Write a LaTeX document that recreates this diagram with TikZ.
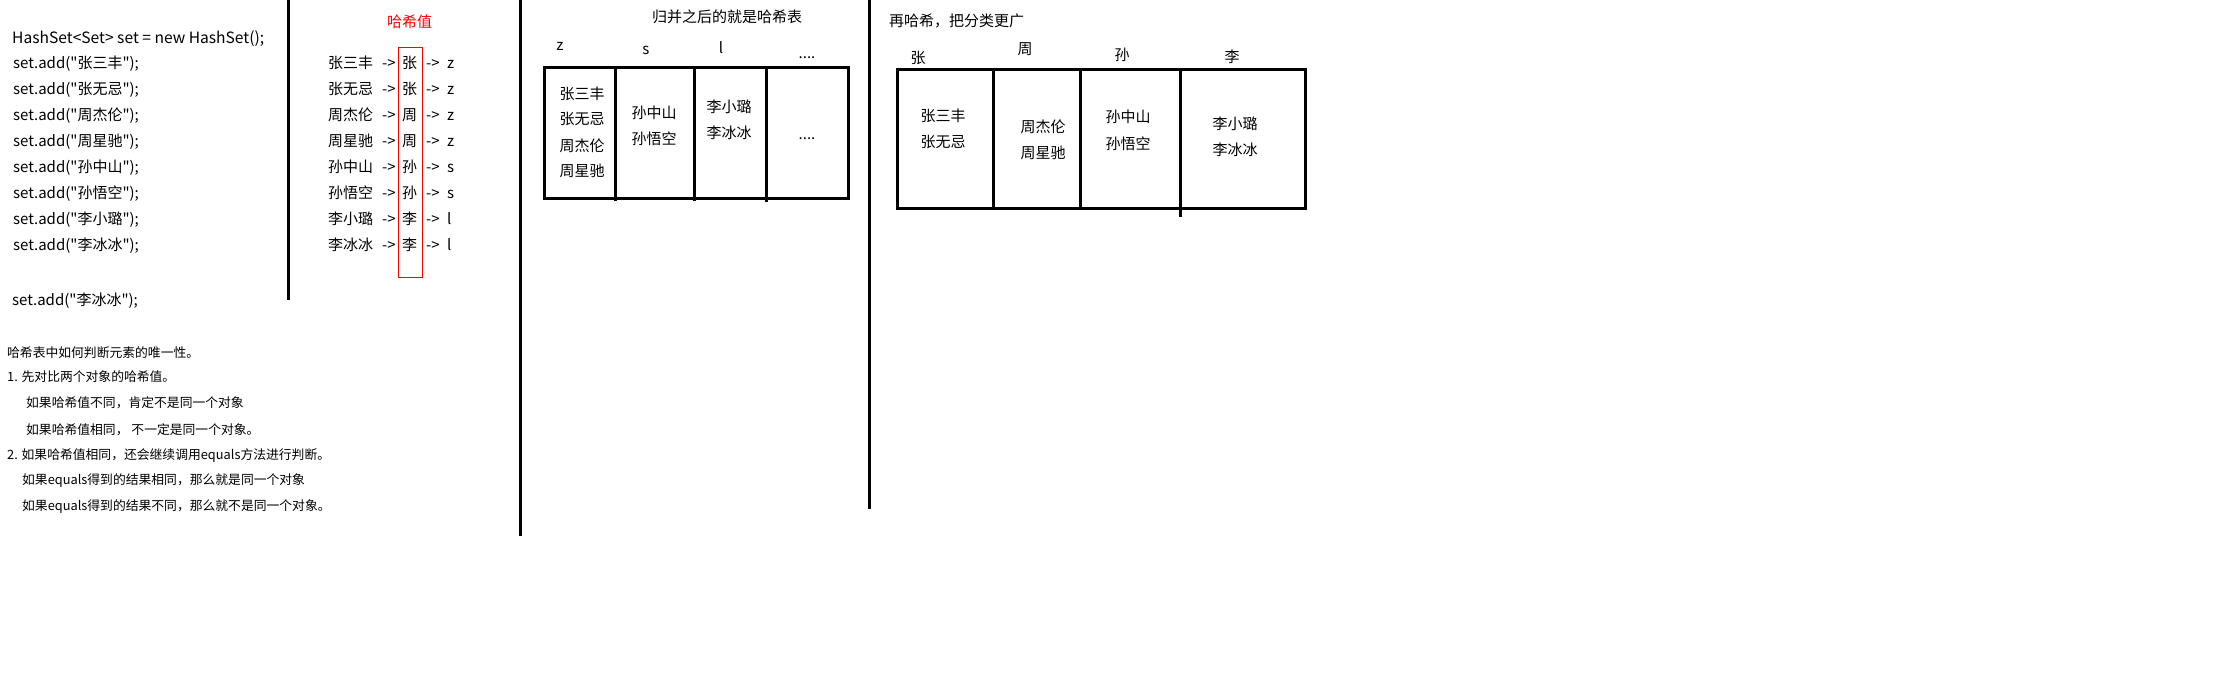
\documentclass[tikz,border=0pt]{standalone}
\usepackage{fontspec}
\newfontfamily\cjkfont{Noto Sans CJK SC}
\begin{document}
\begin{tikzpicture}[x=1pt,y=-1pt,
  txt/.style={inner sep=0pt, font=\cjkfont\fontsize{15}{18}\selectfont, text height=13.2pt, text depth=1.8pt},
  small/.style={inner sep=0pt, font=\cjkfont\fontsize{12.8}{15}\selectfont, text height=11.2pt, text depth=1.6pt},
  lbl/.style={inner sep=0pt, font=\cjkfont\fontsize{15}{18}\selectfont, anchor=base},
  divider/.style={line width=3pt},
  tbl/.style={line width=3pt},
  hashbox/.style={draw=red, line width=1pt, inner sep=0pt, minimum width=24pt, minimum height=230pt}]
\useasboundingbox[fill=white] (0,0) rectangle (2220,683);

% dividers
\coordinate (d1t) at (288,0);   \coordinate (d1b) at (288,300);
\coordinate (d2t) at (520.5,0); \coordinate (d2b) at (520.5,536);
\coordinate (d3t) at (869.5,0); \coordinate (d3b) at (869.5,509);
\draw[divider] (d1t) -- (d1b);
\draw[divider] (d2t) -- (d2b);
\draw[divider] (d3t) -- (d3b);

% code
\node[txt, anchor=west, font=\cjkfont\fontsize{15.6}{18}\selectfont] (code0) at (12,38) {HashSet<Set> set = new HashSet();};
\foreach \n/\h/\l [count=\i] in {张三丰/张/z, 张无忌/张/z, 周杰伦/周/z, 周星驰/周/z, 孙中山/孙/s, 孙悟空/孙/s, 李小璐/李/l, 李冰冰/李/l}{
  \pgfmathsetmacro{\yy}{63+26*(\i-1)}
  \node[txt, anchor=west] (add\i) at (13,\yy) {set.add("\n");};
  \node[txt, anchor=west] (nm\i) at (328,\yy) {\n};
  \node[txt, anchor=west] (a\i) at (382,\yy) {->};
  \node[txt] (h\i) at (409.5,\yy) {\h};
  \node[txt, anchor=west] (b\i) at (426,\yy) {->};
  \node[txt, anchor=west] (l\i) at (447,\yy) {\l};
}
\node[txt, anchor=west] (addlast) at (12,300) {set.add("李冰冰");};

% hash values
\node[txt, text=red] (hv) at (409.5,22) {哈希值};
\node[hashbox] (hbox) at (410,162) {};

% notes
\node[small, anchor=west] (n1) at (7,353) {哈希表中如何判断元素的唯一性。};
\node[small, anchor=west] (n2) at (7,377) {1. 先对比两个对象的哈希值。};
\node[small, anchor=west] (n3) at (26,403) {如果哈希值不同，肯定不是同一个对象};
\node[small, anchor=west] (n4) at (26,430) {如果哈希值相同， 不一定是同一个对象。};
\node[small, anchor=west] (n5) at (7,454.5) {2. 如果哈希值相同，还会继续调用equals方法进行判断。};
\node[small, anchor=west] (n6) at (22,480) {如果equals得到的结果相同，那么就是同一个对象};
\node[small, anchor=west] (n7) at (22,506) {如果equals得到的结果不同，那么就不是同一个对象。};

% table 1
\node[txt] (t1title) at (727,16.6) {归并之后的就是哈希表};
\node[lbl] (t1z) at (560,50) {z};
\node[lbl] (t1s) at (646,54) {s};
\node[lbl] (t1l) at (721,53) {l};
\node[lbl] (t1d) at (807,58) {....};
\draw[tbl] (544,67) rectangle (848,198);
\draw[tbl] (615,67) -- (615,201);
\draw[tbl] (694,67) -- (694,201);
\draw[tbl] (766,67) -- (766,202);
\node[txt] (t1a1) at (582,93.5) {张三丰};
\node[txt] (t1a2) at (582,119) {张无忌};
\node[txt] (t1a3) at (582,145.5) {周杰伦};
\node[txt] (t1a4) at (582,171) {周星驰};
\node[txt] (t1b1) at (654,113) {孙中山};
\node[txt] (t1b2) at (654,138.5) {孙悟空};
\node[txt] (t1c1) at (729,107) {李小璐};
\node[txt] (t1c2) at (729,133) {李冰冰};
\node[lbl] (t1dd) at (807,139) {....};

% table 2
\node[txt, anchor=west] (t2title) at (889,21) {再哈希，把分类更广};
\node[txt] (t2z) at (918,57.5) {张};
\node[txt] (t2h) at (1025,49) {周};
\node[txt] (t2s) at (1122,55) {孙};
\node[txt] (t2l) at (1232,57) {李};
\draw[tbl] (897,69) rectangle (1305,208);
\draw[tbl] (993,69) -- (993,208);
\draw[tbl] (1080,69) -- (1080,210);
\draw[tbl] (1180,69) -- (1180,217);
\node[txt] (t2a1) at (943,116) {张三丰};
\node[txt] (t2a2) at (943,142) {张无忌};
\node[txt] (t2b1) at (1043,127) {周杰伦};
\node[txt] (t2b2) at (1043,153) {周星驰};
\node[txt] (t2c1) at (1128,117) {孙中山};
\node[txt] (t2c2) at (1128,144) {孙悟空};
\node[txt] (t2d1) at (1235,124) {李小璐};
\node[txt] (t2d2) at (1235,150) {李冰冰};
\end{tikzpicture}
\end{document}
